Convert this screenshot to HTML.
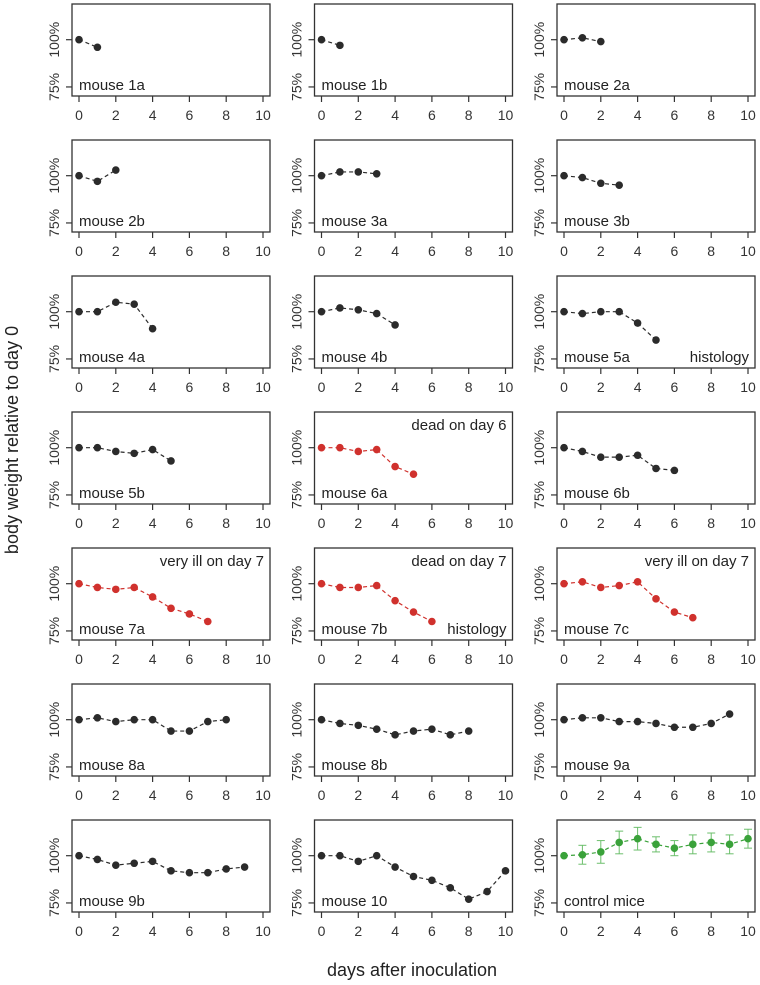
<!DOCTYPE html>
<html><head><meta charset="utf-8"><style>
body{margin:0;background:#fff;}
svg{display:block;font-family:"Liberation Sans",sans-serif;}
</style></head><body>
<svg id="c" width="760" height="985">
<text x="412" y="976" font-size="18" fill="#222" text-anchor="middle">days after inoculation</text>
<text transform="translate(18,440) rotate(-90)" font-size="18" fill="#222" text-anchor="middle">body weight relative to day 0</text>
</svg>
<script>
const labels=["mouse 1a","mouse 1b","mouse 2a","mouse 2b","mouse 3a","mouse 3b","mouse 4a","mouse 4b","mouse 5a","mouse 5b","mouse 6a","mouse 6b","mouse 7a","mouse 7b","mouse 7c","mouse 8a","mouse 8b","mouse 9a","mouse 9b","mouse 10","control mice"];
const series=[
[100,96],[100,97],[100,101,99],[100,97,103],[100,102,102,101],[100,99,96,95],
[100,100,105,104,91],[100,102,101,99,93],[100,99,100,100,94,85],
[100,100,98,97,99,93],[100,100,98,99,90,86],[100,98,95,95,96,89,88],
[100,98,97,98,93,87,84,80],[100,98,98,99,91,85,80],[100,101,98,99,101,92,85,82],
[100,101,99,100,100,94,94,99,100],[100,98,97,95,92,94,95,92,94],
[100,101,101,99,99,98,96,96,98,103],[100,98,95,96,97,92,91,91,93,94],
[100,100,97,100,94,89,87,83,77,81,92],
[100,100.5,102,107,109,106,104,106,107,106,109]];
const controlErr=[0,5,6,6,6,4,4,5,5,5,5];
const groups=["k","k","k","k","k","k","k","k","k","k","r","k","r","r","r","k","k","k","k","k","g"];
const topNotes={10:"dead on day 6",12:"very ill on day 7",13:"dead on day 7",14:"very ill on day 7"};
const bottomNotes={8:"histology",13:"histology"};
const xTicks=[0,2,4,6,8,10];
const yTicks=[75,100];
const colors={k:"#2b2b2b",r:"#d0312d",g:"#3aa23a"};
const svg=document.getElementById('c');const NS="http://www.w3.org/2000/svg";
function mk(t,a,p){const e=document.createElementNS(NS,t);for(const k in a)e.setAttribute(k,a[k]);(p||svg).appendChild(e);return e;}
labels.forEach((lab,i)=>{
 const col=i%3,row=Math.floor(i/3);
 const L=72+col*242.5,T=4+row*136,W=198,H=92;
 const sx=d=>L+7+d*18.4, sy=v=>T+35.7-(v-100)*1.89;
 const g=mk('g',{});
 
 
 mk('rect',{x:L,y:T,width:W,height:H,fill:'none',stroke:'#333','stroke-width':1.3},g);
 xTicks.forEach(t=>{mk('line',{x1:sx(t),x2:sx(t),y1:T+H,y2:T+H+6,stroke:'#333','stroke-width':1.2},g);
  const tx=mk('text',{x:sx(t),y:T+H+24,'font-size':14,'text-anchor':'middle',fill:'#333'},g);tx.textContent=t;});
 yTicks.forEach(t=>{mk('line',{x1:L-6,x2:L,y1:sy(t),y2:sy(t),stroke:'#333','stroke-width':1.2},g);
  const tx=mk('text',{transform:`translate(${L-13},${sy(t)}) rotate(-90)`,'font-size':14,'text-anchor':'middle',fill:'#333'},g);tx.textContent=t+'%';});
 const c=colors[groups[i]],d=series[i];
 if(groups[i]==='g'){d.forEach((v,j)=>{const e=controlErr[j];if(!e)return;
  mk('line',{x1:sx(j),x2:sx(j),y1:sy(v-e),y2:sy(v+e),stroke:'#6cbf6c','stroke-width':1},g);
  [v-e,v+e].forEach(w=>mk('line',{x1:sx(j)-4,x2:sx(j)+4,y1:sy(w),y2:sy(w),stroke:'#6cbf6c','stroke-width':1},g));});}
 mk('polyline',{points:d.map((v,j)=>sx(j)+','+sy(v)).join(' '),fill:'none',stroke:c,'stroke-width':1.2,'stroke-dasharray':'4,3'},g);
 d.forEach((v,j)=>{const p=mk('circle',{cx:sx(j),cy:sy(v),r:3.8,fill:c},g);
  
  });
 const lt=mk('text',{x:L+7,y:T+H-6,'font-size':15,fill:'#222'},g);lt.textContent=lab;
 
 
 if(topNotes[i]){const t=mk('text',{x:L+W-6,y:T+18,'font-size':15,fill:'#222','text-anchor':'end'},g);t.textContent=topNotes[i];
  
  }
 if(bottomNotes[i]){const t=mk('text',{x:L+W-6,y:T+H-6,'font-size':15,fill:'#222','text-anchor':'end'},g);t.textContent=bottomNotes[i];
  
  }
});
</script>
</body></html>
